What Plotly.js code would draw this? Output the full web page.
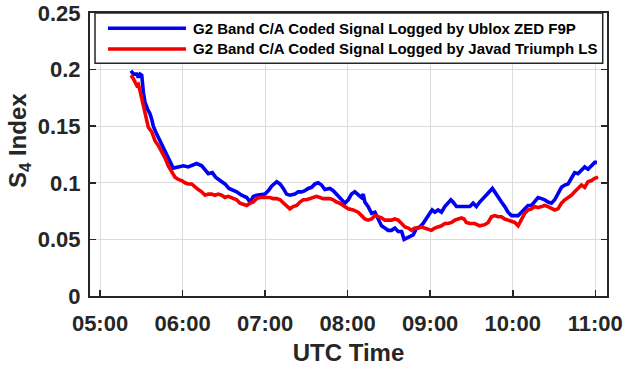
<!DOCTYPE html>
<html>
<head>
<meta charset="utf-8">
<script src="https://cdn.plot.ly/plotly-3.0.1.min.js"></script>
<style>
  html, body { margin: 0; padding: 0; background: #ffffff; }
  #chart { width: 640px; height: 366px; }
</style>
</head>
<body>
<div id="chart"></div>
<script>
// S4 scintillation index on the GLONASS G2 C/A signal, two receivers.
// Time is given in minutes after 05:00 UTC.

const ubloxName = 'G2 Band C/A Coded Signal Logged by Ublox ZED F9P';
const ubloxMinutes = [
  22.5, 24.2, 26.7, 27.8, 29.1, 30.3, 31.5, 32.7, 34.6, 36.3, 37.6, 38.7, 41.2, 43.6, 46.0, 48.5,
  50.8, 53.2, 56.9, 60.5, 64.1, 67.8, 70.2, 73.9, 76.3, 78.7, 81.6, 84.0, 87.2, 90.8, 93.7, 96.1,
  99.3, 102.9, 106.6, 109.0, 111.4, 113.8, 117.5, 119.9, 122.3, 124.7, 128.4, 130.8, 133.2, 135.6,
  138.0, 141.6, 144.0, 146.5, 148.9, 151.3, 153.8, 156.2, 158.6, 161.0, 163.4, 167.1, 169.5, 171.9,
  174.3, 178.0, 180.4, 182.8, 185.2, 187.6, 190.1, 191.3, 192.5, 194.9, 197.4, 199.8, 202.2, 204.6,
  207.0, 209.4, 211.9, 214.3, 216.7, 219.2, 221.0, 222.8, 225.2, 227.6, 230.1, 232.4, 234.8, 237.3,
  239.7, 241.4, 243.3, 245.7, 248.2, 250.6, 253.0, 255.0, 256.6, 259.1, 261.5, 265.1, 268.8, 271.2,
  273.6, 276.0, 278.4, 280.9, 283.3, 285.2, 286.9, 289.3, 291.8, 294.2, 296.6, 299.1, 301.5, 303.9,
  306.3, 308.7, 311.1, 313.6, 316.0, 318.4, 320.9, 323.2, 325.6, 328.1, 330.5, 332.9, 335.4, 337.8,
  340.2, 342.6, 345.0, 347.4, 349.9, 352.3, 354.7, 357.2, 359.6, 361.2
];
const ubloxS4 = [
  0.199, 0.196, 0.196, 0.193, 0.196, 0.195, 0.180, 0.171, 0.165, 0.161, 0.156, 0.150, 0.143, 0.137, 0.131, 0.124,
  0.118, 0.113, 0.114, 0.115, 0.114, 0.116, 0.117, 0.115, 0.112, 0.108, 0.109, 0.105, 0.102, 0.099, 0.095, 0.094,
  0.092, 0.089, 0.087, 0.083, 0.088, 0.089, 0.090, 0.090, 0.093, 0.097, 0.101, 0.099, 0.095, 0.090,
  0.089, 0.090, 0.092, 0.092, 0.093, 0.095, 0.096, 0.099, 0.100, 0.098, 0.094, 0.095, 0.093, 0.090,
  0.087, 0.082, 0.085, 0.090, 0.092, 0.089, 0.087, 0.090, 0.083, 0.079, 0.073, 0.074, 0.068, 0.062,
  0.060, 0.058, 0.058, 0.060, 0.057, 0.057, 0.050, 0.051, 0.052, 0.054, 0.060, 0.061, 0.064, 0.068,
  0.073, 0.076, 0.074, 0.076, 0.074, 0.079, 0.083, 0.085, 0.083, 0.079, 0.079, 0.079, 0.079, 0.082,
  0.079, 0.083, 0.086, 0.089, 0.092, 0.095, 0.092, 0.087, 0.083, 0.079, 0.074, 0.071, 0.071, 0.071,
  0.074, 0.077, 0.080, 0.080, 0.083, 0.087, 0.086, 0.085, 0.083, 0.082, 0.085, 0.090, 0.096, 0.098,
  0.099, 0.104, 0.109, 0.108, 0.111, 0.114, 0.112, 0.115, 0.118, 0.118
];

const javadName = 'G2 Band C/A Coded Signal Logged by Javad Triumph LS';
const javadMinutes = [
  22.5, 24.2, 26.7, 27.8, 29.1, 30.3, 31.5, 32.7, 33.9, 35.1, 37.6, 40.0, 42.3, 44.8, 47.2, 49.6,
  52.1, 54.5, 56.9, 59.3, 61.7, 64.1, 66.6, 69.0, 71.4, 73.9, 76.3, 78.7, 81.1, 83.5, 85.9, 88.4,
  90.8, 93.2, 95.7, 96.8, 99.3, 101.7, 104.1, 106.6, 109.0, 111.4, 113.8, 116.2, 118.6, 121.1,
  123.5, 125.9, 128.4, 130.8, 133.2, 135.6, 138.0, 140.4, 142.9, 145.3, 147.7, 150.1, 152.5, 154.9,
  157.4, 159.8, 162.2, 164.7, 167.1, 169.5, 171.9, 174.3, 178.0, 180.4, 184.0, 187.6, 190.1, 192.5,
  194.9, 197.4, 199.8, 202.2, 204.6, 207.0, 209.4, 211.9, 214.3, 216.7, 219.2, 221.6, 224.0, 226.4,
  228.8, 231.2, 233.6, 236.1, 238.5, 240.9, 243.3, 245.7, 248.2, 250.6, 253.0, 255.5, 257.9, 260.3,
  262.7, 264.6, 266.3, 268.8, 272.4, 276.0, 279.7, 282.1, 284.5, 286.9, 289.3, 291.8, 294.2, 296.6,
  299.1, 301.5, 303.9, 306.3, 308.7, 311.1, 313.6, 316.0, 318.4, 320.9, 323.2, 325.6, 328.1, 330.5,
  332.9, 335.4, 337.8, 340.2, 342.6, 345.0, 347.4, 349.9, 352.3, 354.7, 357.2, 359.6, 362.0
];
const javadS4 = [
  0.195, 0.192, 0.186, 0.187, 0.181, 0.175, 0.168, 0.162, 0.155, 0.149, 0.145, 0.137, 0.133, 0.128, 0.122, 0.115,
  0.109, 0.105, 0.103, 0.102, 0.100, 0.099, 0.099, 0.096, 0.094, 0.092, 0.089, 0.090, 0.090, 0.089, 0.090, 0.089,
  0.087, 0.088, 0.087, 0.086, 0.085, 0.082, 0.081, 0.080, 0.082, 0.083, 0.086, 0.087, 0.087, 0.087,
  0.087, 0.086, 0.086, 0.085, 0.082, 0.079, 0.077, 0.079, 0.080, 0.083, 0.085, 0.085, 0.086, 0.087,
  0.088, 0.087, 0.086, 0.086, 0.086, 0.085, 0.083, 0.082, 0.079, 0.077, 0.076, 0.074, 0.071, 0.068,
  0.067, 0.068, 0.071, 0.070, 0.069, 0.067, 0.067, 0.067, 0.068, 0.067, 0.064, 0.061, 0.060, 0.058,
  0.060, 0.060, 0.061, 0.060, 0.059, 0.058, 0.060, 0.061, 0.062, 0.064, 0.064, 0.065, 0.067, 0.068,
  0.069, 0.068, 0.065, 0.064, 0.064, 0.062, 0.063, 0.065, 0.070, 0.071, 0.070, 0.070, 0.068, 0.067,
  0.066, 0.065, 0.062, 0.067, 0.073, 0.076, 0.077, 0.079, 0.078, 0.079, 0.080, 0.079, 0.077, 0.076,
  0.077, 0.082, 0.085, 0.087, 0.089, 0.092, 0.095, 0.098, 0.096, 0.101, 0.102, 0.104, 0.105
];

// Axis ticks
const timeTickMinutes = [0, 60, 120, 180, 240, 300, 360];
const timeTickLabels = ['05:00', '06:00', '07:00', '08:00', '09:00', '10:00', '11:00'];
const s4TickValues = [0, 0.05, 0.1, 0.15, 0.2, 0.25];
const s4TickLabels = ['0', '0.05', '0.1', '0.15', '0.2', '0.25'];

const ublox_color = '#0000f5';
const javad_color = '#f50000';
const ink = '#262626';
const fontFamily = '"Liberation Sans", Arial, sans-serif';

const traces = [
  {
    type: 'scatter', mode: 'lines', name: ubloxName,
    x: ubloxMinutes, y: ubloxS4,
    line: { color: ublox_color, width: 3.6 }
  },
  {
    type: 'scatter', mode: 'lines', name: javadName,
    x: javadMinutes, y: javadS4,
    line: { color: javad_color, width: 3.6 }
  }
];

const axisCommon = {
  showline: true, linecolor: ink, linewidth: 2, mirror: 'ticks',
  ticks: 'inside', ticklen: 6, tickwidth: 1.5, tickcolor: ink,
  showgrid: true, gridcolor: '#dcdcdc', gridwidth: 1,
  zeroline: false, fixedrange: true,
  tickfont: { family: fontFamily, size: 22, color: ink, weight: 'bold' }
};

// Boxed legend in the top-left corner of the axes (paper coordinates)
const legendBox = { x0: 0.0097, x1: 0.9917, y0: 0.822, y1: 1.0 };
const legendSwatch = { x0: 0.0348, x1: 0.1856 };
const legendTextX = 0.196;
const legendRows = [
  { y: 0.946, name: ubloxName, color: ublox_color },
  { y: 0.873, name: javadName, color: javad_color }
];

const shapes = [
  {
    type: 'rect', xref: 'paper', yref: 'paper', layer: 'above',
    x0: legendBox.x0, x1: legendBox.x1, y0: legendBox.y0, y1: legendBox.y1,
    fillcolor: '#ffffff', line: { color: ink, width: 1.5 }
  }
].concat(legendRows.map(r => ({
  type: 'line', xref: 'paper', yref: 'paper', layer: 'above',
  x0: legendSwatch.x0, x1: legendSwatch.x1, y0: r.y, y1: r.y,
  line: { color: r.color, width: 3.4 }
})));

const annotations = legendRows.map(r => ({
  xref: 'paper', yref: 'paper', x: legendTextX, y: r.y,
  xanchor: 'left', yanchor: 'middle', showarrow: false,
  text: r.name,
  font: { family: fontFamily, size: 15, color: '#000000', weight: 'bold' }
}));

// y-axis title, raised a little above the axes midpoint
annotations.push({
  xref: 'paper', yref: 'paper', x: -0.135, y: 0.548,
  xanchor: 'center', yanchor: 'middle', showarrow: false, textangle: -90,
  text: 'S<sub>4</sub> Index',
  font: { family: fontFamily, size: 24, color: ink, weight: 'bold' }
});

const layout = {
  width: 640, height: 366,
  margin: { l: 90, r: 33, t: 13, b: 70 },
  paper_bgcolor: '#ffffff', plot_bgcolor: '#ffffff',
  font: { family: fontFamily, color: ink },
  showlegend: false,
  shapes: shapes,
  annotations: annotations,
  xaxis: Object.assign({}, axisCommon, {
    range: [-7.3, 368.5],
    tickmode: 'array', tickvals: timeTickMinutes, ticktext: timeTickLabels,
    ticklabelstandoff: 7,
    title: { text: 'UTC Time', font: { family: fontFamily, size: 24, color: ink, weight: 'bold' }, standoff: 11 }
  }),
  yaxis: Object.assign({}, axisCommon, {
    range: [0, 0.25],
    tickmode: 'array', tickvals: s4TickValues, ticktext: s4TickLabels,
    ticklabelstandoff: 3
  })
};

Plotly.newPlot('chart', traces, layout, { staticPlot: true, displayModeBar: false });
</script>
</body>
</html>
